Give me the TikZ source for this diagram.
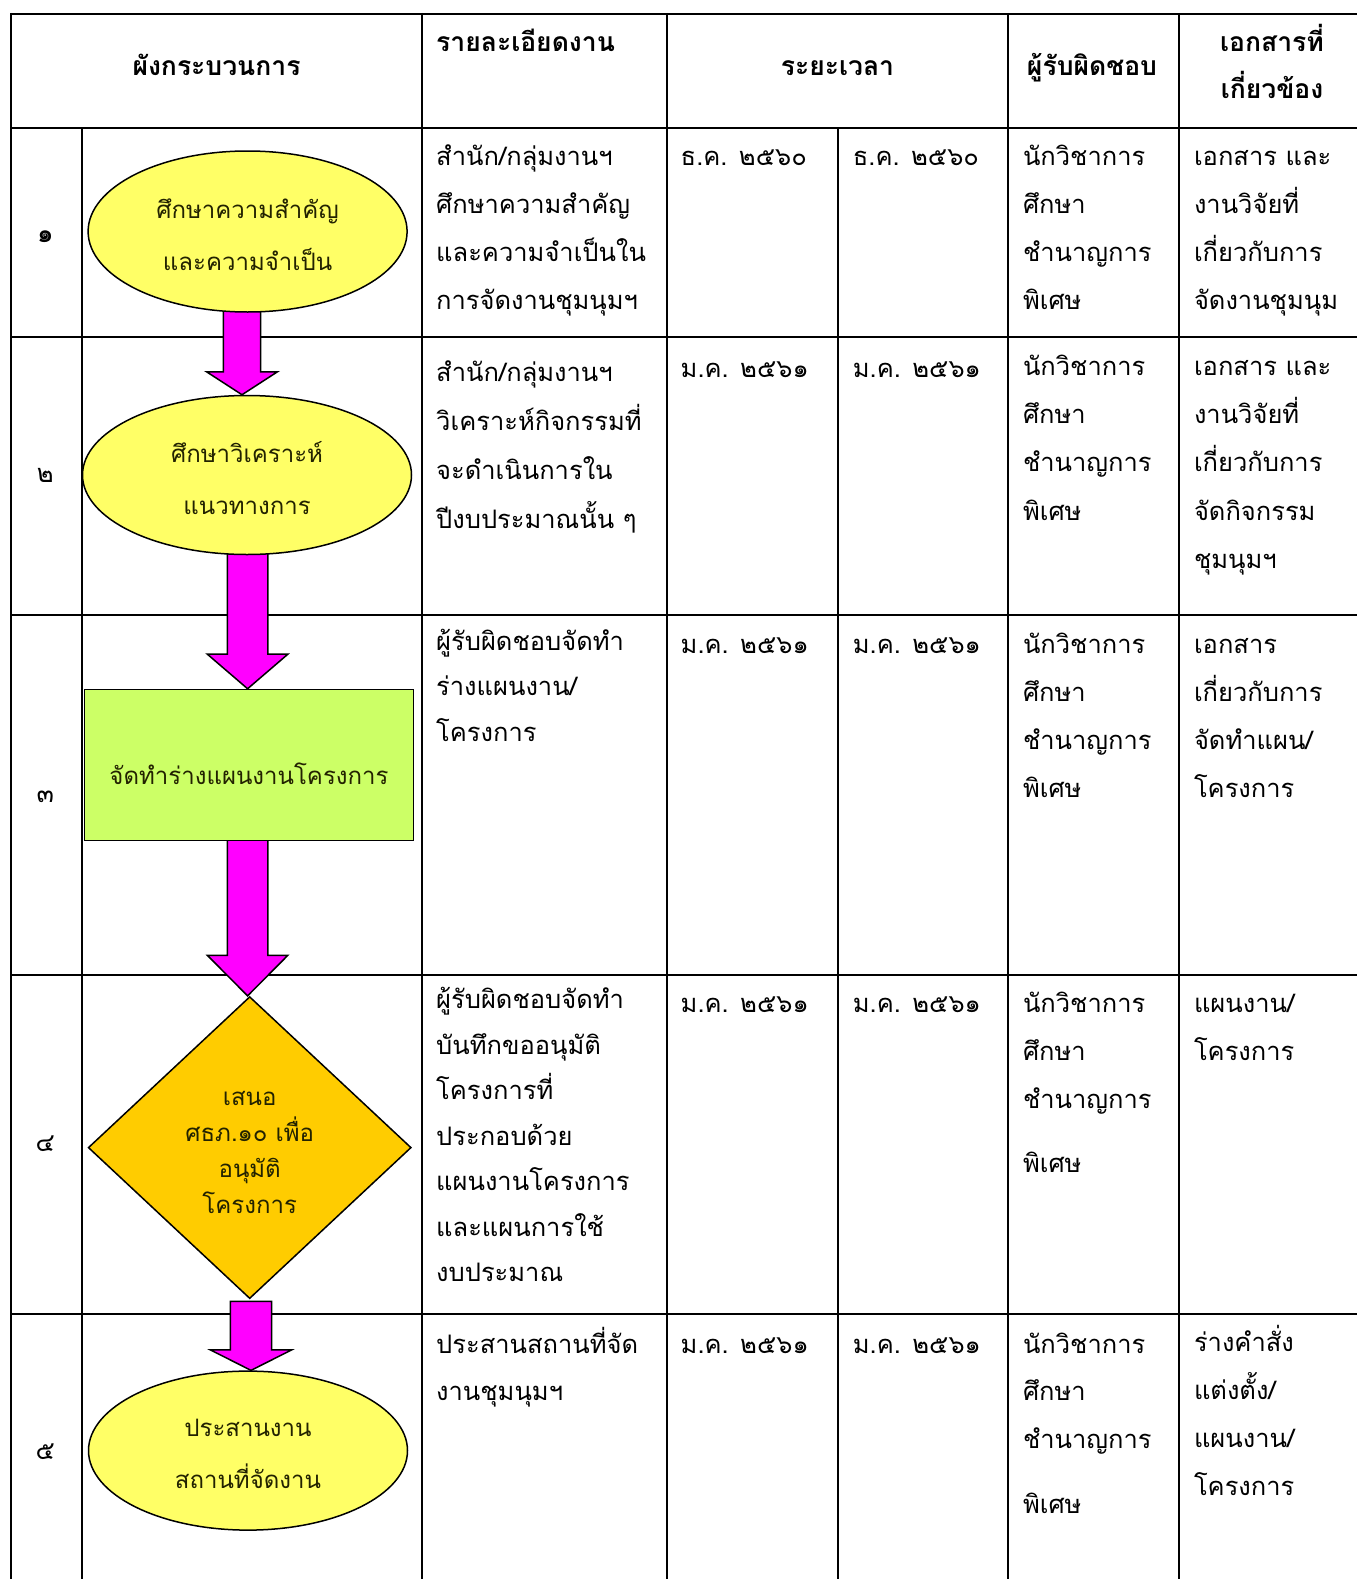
\documentclass[tikz,border=0pt]{standalone}
\usepackage{fontspec}
\newfontfamily\thai[Script=Thai]{Loma}
\usetikzlibrary{shapes.geometric,calc}
\pgfdeclarelayer{bg}
\pgfdeclarelayer{mid}
\pgfsetlayers{bg,mid,main}
\definecolor{ellfill}{HTML}{FFFF66}
\definecolor{rectfill}{HTML}{CCFF66}
\definecolor{diafill}{HTML}{FFCC00}
\definecolor{arrfill}{HTML}{FF00FF}
\definecolor{shptxt}{HTML}{222200}
\tikzset{
  gridline/.style={line width=2pt, black},
  txt/.style={anchor=base west, inner sep=0pt, font=\thai\fontsize{25.5}{28}\selectfont},
  hdr/.style={anchor=base, inner sep=0pt, font=\thai\bfseries\fontsize{26.5}{30}\selectfont},
  numtxt/.style={anchor=base, inner sep=0pt, font=\thai\fontsize{25.5}{28}\selectfont},
  ellbox/.style={ellipse, draw=black, line width=1.5pt, fill=ellfill, inner sep=0pt, align=center, text=shptxt, font=\thai\fontsize{24}{52}\selectfont},
  rectbox/.style={rectangle, draw=black, line width=1.5pt, fill=rectfill, inner sep=0pt, align=center, text=shptxt, font=\thai\fontsize{24}{30}\selectfont},
  diabox/.style={diamond, draw=black, line width=1.5pt, fill=diafill, inner sep=0pt, align=center, text=shptxt, font=\thai\fontsize{24}{36}\selectfont},
  barrow/.style={draw=black, line width=1.5pt, fill=arrfill, line join=miter},
}
\newcommand\dn[2]{\raisebox{-#1pt}[\height][\depth]{#2}}
% #1 name, #2 x, #3 first baseline y, #4 line spacing, #5 lines
\newcommand\celllines[5]{%
  \foreach \t [count=\i] in {#5} {\node[txt] (#1-\i) at (#2,{#3+(\i-1)*#4}) {\t};}}
% #1 from, #2 to, #3 dx, #4 half shaft, #5 half head, #6 head length, #7 start shift
\newcommand\blockarr[7]{%
  \begin{pgfonlayer}{mid}
  \draw[barrow] let \p1=($(#1.south)+(#3,#7)$), \p2=($(#2.north)+(#3,0)$) in
    (\x1-#4,\y1) -- (\x1-#4,\y2+#6) -- (\x1-#5,\y2+#6) -- (\x1,\y2)
    -- (\x1+#5,\y2+#6) -- (\x1+#4,\y2+#6) -- (\x1+#4,\y1) -- cycle;
  \end{pgfonlayer}}
\begin{document}
\begin{tikzpicture}[x=1pt,y=-1pt]
\useasboundingbox (0,0) rectangle (1357,1579);
% ---------- table grid ----------
\begin{pgfonlayer}{bg}
\fill[white] (0,0) rectangle (1357,1579);
\draw[gridline] (11,14) -- (1357,14);
\draw[gridline] (11,128) -- (1357,128);
\draw[gridline] (11,337) -- (1357,337);
\draw[gridline] (11,615) -- (1357,615);
\draw[gridline] (11,974.5) -- (1357,974.5);
\draw[gridline] (11,1314) -- (1357,1314);
\draw[gridline] (11,13) -- (11,1579);
\draw[gridline] (81.5,128) -- (81.5,1579);
\draw[gridline] (422,13) -- (422,1579);
\draw[gridline] (666.5,13) -- (666.5,1579);
\draw[gridline] (837.5,128) -- (837.5,1579);
\draw[gridline] (1008,13) -- (1008,1579);
\draw[gridline] (1179,13) -- (1179,1579);
\end{pgfonlayer}
% ---------- header ----------
\node[hdr] (h1) at (216.5,75.5) {ผังกระบวนการ};
\node[hdr,anchor=base west] (h2) at (436,51.5) {รายละเอียดงาน};
\node[hdr] (h3) at (837.5,75.5) {ระยะเวลา};
\node[hdr] (h4) at (1092,75.5) {ผู้รับผิดชอบ};
\node[hdr] (h5a) at (1272,51.5) {เอกสารที่};
\node[hdr] (h5b) at (1272,98.5) {เกี่ยวข้อง};
% ---------- numbers ----------
\node[numtxt,font=\thai\bfseries\fontsize{26}{28}\selectfont] (n1) at (45.3,242) {๑};
\node[numtxt] (n2) at (45.3,482) {๒};
\node[numtxt] (n3) at (45.3,802) {๓};
\node[numtxt] (n4) at (45.3,1151) {๔};
\node[numtxt] (n5) at (45.3,1459) {๕};
% ---------- flow shapes ----------
\node[ellbox, minimum width=319pt, minimum height=161pt] (e1) at (247.6,231.5) {\dn{3}{ศึกษาความสำคัญ}\\\dn{3}{และความจำเป็น}};
\node[ellbox, minimum width=329pt, minimum height=159pt] (e2) at (247,475) {\dn{3}{ศึกษาวิเคราะห์}\\\dn{3}{แนวทางการ}};
\node[rectbox, minimum width=329pt, minimum height=151pt] (r3) at (249,765) {\dn{9}{จัดทำร่างแผนงานโครงการ}};
\node[diabox, minimum width=323pt, minimum height=302pt] (d4) at (249.7,1147.6) {\dn{5}{เสนอ}\\\dn{5}{ศธภ.๑๐ เพื่อ}\\\dn{5}{อนุมัติ}\\\dn{5}{โครงการ}};
\node[ellbox, minimum width=319pt, minimum height=159pt] (e5) at (248,1450.6) {\dn{3}{ประสานงาน}\\\dn{3}{สถานที่จัดงาน}};
% ---------- block arrows ----------
\blockarr{e1}{e2}{-5.6}{18.6pt}{35.5pt}{23pt}{-6}
\blockarr{e2}{r3}{0.6}{20.2pt}{40.3pt}{34.6pt}{-6}
\blockarr{r3}{d4}{-1.4}{20.2pt}{40.3pt}{40.6pt}{-3}
\blockarr{d4}{e5}{1.3}{20.6pt}{40.5pt}{20.4pt}{2}
% ---------- row 1 ----------
\celllines{r1c3}{436}{165}{48}{สำนัก/กลุ่มงานฯ,ศึกษาความสำคัญ,และความจำเป็นใน,การจัดงานชุมนุมฯ}
\node[txt] (r1c4) at (680.5,165) {ธ.ค. ๒๕๖๐};
\node[txt] (r1c5) at (852.7,165) {ธ.ค. ๒๕๖๐};
\celllines{r1c6}{1022.8}{165}{48}{นักวิชาการ,ศึกษา,ชำนาญการ,พิเศษ}
\celllines{r1c7}{1193.8}{165}{48}{เอกสาร และ,งานวิจัยที่,เกี่ยวกับการ,จัดงานชุมนุม}
% ---------- row 2 ----------
\celllines{r2c3}{436}{381.5}{49}{สำนัก/กลุ่มงานฯ,วิเคราะห์กิจกรรมที่,จะดำเนินการใน,ปีงบประมาณนั้น ๆ}
\node[txt] (r2c4) at (680.5,377) {ม.ค. ๒๕๖๑};
\node[txt] (r2c5) at (852.7,377) {ม.ค. ๒๕๖๑};
\celllines{r2c6}{1022.8}{375.4}{48.2}{นักวิชาการ,ศึกษา,ชำนาญการ,พิเศษ}
\celllines{r2c7}{1193.8}{375.4}{48.2}{เอกสาร และ,งานวิจัยที่,เกี่ยวกับการ,จัดกิจกรรม,ชุมนุมฯ}
% ---------- row 3 ----------
\celllines{r3c3}{436}{650}{45.5}{ผู้รับผิดชอบจัดทำ,ร่างแผนงาน/,โครงการ}
\node[txt] (r3c4) at (680.5,653) {ม.ค. ๒๕๖๑};
\node[txt] (r3c5) at (852.7,653) {ม.ค. ๒๕๖๑};
\celllines{r3c6}{1022.8}{653}{48}{นักวิชาการ,ศึกษา,ชำนาญการ,พิเศษ}
\celllines{r3c7}{1193.8}{653}{48}{เอกสาร,เกี่ยวกับการ,จัดทำแผน/,โครงการ}
% ---------- row 4 ----------
\celllines{r4c3}{436}{1008.6}{45.5}{ผู้รับผิดชอบจัดทำ,บันทึกขออนุมัติ,โครงการที่,ประกอบด้วย,แผนงานโครงการ,และแผนการใช้,งบประมาณ}
\node[txt] (r4c4) at (680.5,1012.7) {ม.ค. ๒๕๖๑};
\node[txt] (r4c5) at (852.7,1012.7) {ม.ค. ๒๕๖๑};
\celllines{r4c6}{1022.8}{1012.7}{47.7}{นักวิชาการ,ศึกษา,ชำนาญการ}
\node[txt] (r4c6-4) at (1022.8,1172.7) {พิเศษ};
\celllines{r4c7}{1193.8}{1012.7}{47.7}{แผนงาน/,โครงการ}
% ---------- row 5 ----------
\celllines{r5c3}{436}{1353}{47}{ประสานสถานที่จัด,งานชุมนุมฯ}
\node[txt] (r5c4) at (680.5,1353) {ม.ค. ๒๕๖๑};
\node[txt] (r5c5) at (852.7,1353) {ม.ค. ๒๕๖๑};
\celllines{r5c6}{1022.8}{1353}{47.7}{นักวิชาการ,ศึกษา,ชำนาญการ}
\node[txt] (r5c6-4) at (1022.8,1513) {พิเศษ};
\celllines{r5c7}{1193.8}{1351}{48.2}{ร่างคำสั่ง,แต่งตั้ง/,แผนงาน/,โครงการ}
\end{tikzpicture}
\end{document}
